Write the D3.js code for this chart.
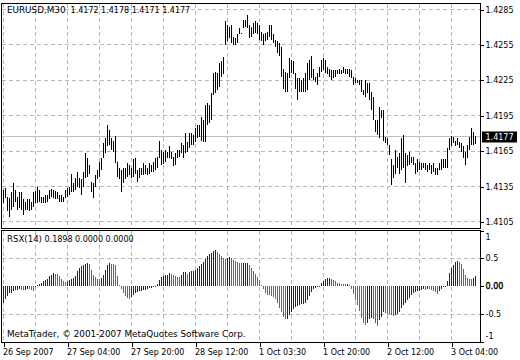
<!DOCTYPE html>
<html><head><meta charset="utf-8">
<script src="https://cdn.jsdelivr.net/npm/d3@7"></script>
<style>
body{margin:0;background:#fff}
svg{display:block}
text{font-family:"DejaVu Sans",Verdana,sans-serif;font-size:8px;fill:#000}
</style>
</head><body><svg id="c" width="520" height="360"></svg>
<script>
const symbol = "EURUSD,M30";
const lastOHLC = [1.4172, 1.4178, 1.4171, 1.4177];
const highs = [
1.4132,1.4134,1.4126,1.4125,1.4130,1.4138,1.4132,1.4126,1.4130,1.4130,
1.4124,1.4122,1.4124,1.4124,1.4122,1.4130,1.4131,1.4135,1.4132,1.4126,
1.4126,1.4128,1.4128,1.4132,1.4133,1.4132,1.4131,1.4130,1.4128,1.4128,
1.4126,1.4132,1.4134,1.4135,1.4146,1.4138,1.4142,1.4147,1.4142,1.4141,
1.4147,1.4163,1.4159,1.4153,1.4139,1.4138,1.4145,1.4149,1.4156,1.4159,
1.4172,1.4176,1.4187,1.4183,1.4176,1.4174,1.4178,1.4156,1.4151,1.4149,
1.4151,1.4151,1.4155,1.4153,1.4151,1.4158,1.4159,1.4149,1.4151,1.4151,
1.4155,1.4153,1.4151,1.4155,1.4153,1.4156,1.4159,1.4160,1.4174,1.4166,
1.4164,1.4166,1.4164,1.4169,1.4164,1.4160,1.4163,1.4166,1.4166,1.4172,
1.4170,1.4180,1.4173,1.4180,1.4180,1.4179,1.4185,1.4187,1.4187,1.4194,
1.4191,1.4204,1.4206,1.4204,1.4214,1.4231,1.4232,1.4231,1.4240,1.4241,
1.4245,1.4275,1.4272,1.4270,1.4272,1.4262,1.4261,1.4264,1.4269,1.4265,
1.4276,1.4276,1.4280,1.4272,1.4270,1.4274,1.4275,1.4274,1.4272,1.4266,
1.4264,1.4265,1.4266,1.4272,1.4272,1.4264,1.4259,1.4258,1.4257,1.4253,
1.4235,1.4232,1.4231,1.4244,1.4242,1.4241,1.4231,1.4227,1.4227,1.4225,
1.4227,1.4231,1.4240,1.4242,1.4246,1.4235,1.4228,1.4231,1.4236,1.4242,
1.4244,1.4242,1.4236,1.4235,1.4234,1.4234,1.4234,1.4234,1.4235,1.4234,
1.4236,1.4235,1.4235,1.4235,1.4234,1.4228,1.4227,1.4225,1.4225,1.4225,
1.4217,1.4225,1.4223,1.4223,1.4215,1.4211,1.4191,1.4191,1.4202,1.4200,
1.4200,1.4177,1.4176,1.4170,1.4158,1.4153,1.4166,1.4160,1.4163,1.4176,
1.4179,1.4163,1.4162,1.4164,1.4160,1.4160,1.4155,1.4158,1.4156,1.4155,
1.4155,1.4155,1.4153,1.4155,1.4153,1.4155,1.4151,1.4151,1.4155,1.4158,
1.4158,1.4158,1.4168,1.4176,1.4178,1.4177,1.4174,1.4176,1.4173,1.4172,
1.4169,1.4164,1.4170,1.4177,1.4185,1.4181,1.4178];
const lows = [
1.4121,1.4125,1.4114,1.4109,1.4115,1.4118,1.4122,1.4115,1.4117,1.4115,
1.4111,1.4115,1.4115,1.4114,1.4115,1.4118,1.4121,1.4121,1.4122,1.4121,
1.4121,1.4121,1.4122,1.4124,1.4126,1.4125,1.4124,1.4124,1.4122,1.4122,
1.4122,1.4125,1.4126,1.4128,1.4130,1.4130,1.4132,1.4135,1.4134,1.4128,
1.4135,1.4142,1.4143,1.4146,1.4130,1.4125,1.4135,1.4141,1.4143,1.4149,
1.4159,1.4163,1.4169,1.4170,1.4166,1.4164,1.4155,1.4143,1.4141,1.4130,
1.4138,1.4141,1.4143,1.4145,1.4142,1.4143,1.4146,1.4139,1.4142,1.4145,
1.4145,1.4146,1.4145,1.4146,1.4147,1.4147,1.4149,1.4151,1.4159,1.4153,
1.4154,1.4156,1.4159,1.4159,1.4158,1.4152,1.4153,1.4159,1.4160,1.4163,
1.4159,1.4163,1.4164,1.4168,1.4170,1.4170,1.4173,1.4176,1.4177,1.4174,
1.4173,1.4173,1.4187,1.4189,1.4191,1.4213,1.4214,1.4217,1.4219,1.4228,
1.4230,1.4255,1.4258,1.4261,1.4257,1.4255,1.4255,1.4257,1.4264,1.4264,
1.4269,1.4270,1.4269,1.4261,1.4262,1.4264,1.4265,1.4264,1.4259,1.4258,
1.4255,1.4258,1.4259,1.4262,1.4259,1.4257,1.4253,1.4248,1.4246,1.4228,
1.4218,1.4215,1.4215,1.4227,1.4231,1.4230,1.4218,1.4208,1.4215,1.4215,
1.4215,1.4215,1.4217,1.4225,1.4227,1.4225,1.4224,1.4221,1.4228,1.4232,
1.4234,1.4231,1.4230,1.4228,1.4225,1.4227,1.4228,1.4230,1.4230,1.4230,
1.4231,1.4230,1.4230,1.4228,1.4227,1.4221,1.4223,1.4223,1.4221,1.4215,
1.4213,1.4211,1.4214,1.4208,1.4200,1.4191,1.4181,1.4179,1.4176,1.4193,
1.4174,1.4172,1.4170,1.4162,1.4136,1.4142,1.4146,1.4151,1.4146,1.4149,
1.4151,1.4138,1.4152,1.4153,1.4155,1.4153,1.4146,1.4147,1.4149,1.4149,
1.4151,1.4149,1.4147,1.4149,1.4146,1.4147,1.4145,1.4145,1.4149,1.4149,
1.4151,1.4151,1.4151,1.4166,1.4169,1.4172,1.4169,1.4170,1.4168,1.4164,
1.4159,1.4153,1.4159,1.4166,1.4170,1.4170,1.4171];
const rsx = [
-0.30,-0.22,-0.18,-0.13,-0.12,-0.09,-0.07,-0.06,-0.045,-0.06,
-0.065,-0.06,-0.05,-0.055,-0.07,-0.09,0.01,0.03,0.045,0.06,
0.09,0.105,0.135,0.18,0.21,0.24,0.22,0.215,0.18,0.135,
0.09,0.08,0.095,0.11,0.13,0.14,0.19,0.27,0.33,0.37,
0.375,0.40,0.415,0.40,0.30,0.21,0.165,0.135,0.13,0.15,
0.205,0.285,0.375,0.415,0.405,0.40,0.375,0.18,0.03,-0.055,
-0.13,-0.175,-0.205,-0.22,-0.195,-0.15,-0.12,-0.105,-0.09,-0.085,
-0.075,-0.065,-0.05,-0.04,-0.03,-0.015,0.003,0.035,0.12,0.165,
0.18,0.195,0.21,0.23,0.225,0.195,0.175,0.165,0.16,0.205,
0.25,0.255,0.225,0.26,0.27,0.28,0.30,0.325,0.36,0.40,
0.435,0.49,0.54,0.575,0.60,0.625,0.65,0.615,0.575,0.535,
0.505,0.49,0.51,0.525,0.50,0.47,0.445,0.43,0.415,0.41,
0.415,0.417,0.42,0.375,0.325,0.265,0.225,0.165,0.105,0.015,
-0.055,-0.115,-0.15,-0.16,-0.175,-0.195,-0.225,-0.295,-0.39,-0.46,
-0.55,-0.595,-0.59,-0.52,-0.46,-0.40,-0.37,-0.355,-0.34,-0.325,
-0.31,-0.295,-0.255,-0.175,-0.105,-0.055,-0.025,-0.015,-0.008,0.065,
0.095,0.125,0.14,0.147,0.135,0.117,0.093,0.063,0.057,0.045,
0.044,0.04,0.045,0.015,-0.045,-0.135,-0.255,-0.345,-0.435,-0.565,
-0.66,-0.70,-0.655,-0.585,-0.57,-0.595,-0.66,-0.705,-0.61,-0.55,
-0.46,-0.48,-0.49,-0.505,-0.52,-0.54,-0.51,-0.49,-0.46,-0.39,
-0.345,-0.295,-0.255,-0.21,-0.165,-0.13,-0.105,-0.092,-0.08,-0.07,
-0.055,-0.07,-0.05,-0.055,-0.062,-0.085,-0.105,-0.135,-0.09,-0.055,
-0.02,-0.003,0.093,0.235,0.33,0.385,0.43,0.45,0.435,0.40,
0.315,0.21,0.15,0.135,0.13,0.145,0.1898];
const rsxHeader = [0.1898, 0.0000, 0.0000];
const priceTicks = [1.4105, 1.4135, 1.4165, 1.4195, 1.4225, 1.4255, 1.4285];
const rsxTicks = [1, 0.5, 0, -0.5, -1];
const rsxTickLabels = ["1", "0.5", "0.00", "-0.5", "-1"];
const timeTickIndex = [0, 32, 64, 96, 128, 160, 192, 224];
const timeTickLabels = ["26 Sep 2007", "27 Sep 04:00", "27 Sep 20:00", "28 Sep 12:00", "1 Oct 03:30", "1 Oct 20:00", "2 Oct 12:00", "3 Oct 04:00"];
const gridIndex = [0,16,32,48,64,80,96,112,128,144,160,176,192,208,224];
const copyright = "MetaTrader, \u00a9 2001-2007 MetaQuotes Software Corp.";

const svg = d3.select("#c");
const L = 1.5, R = 480.5;
const mainTop = 3.5, mainBot = 228.5, indTop = 230.5, indBot = 342.5;
const gridColor = "#b8b8b8";

const x = d3.scaleLinear().domain([0, highs.length - 1]).range([3.5, 3.5 + 2 * (highs.length - 1)]);
const y = d3.scaleLinear().domain([1.4105, 1.4285]).range([221.9, 9.6]);
const yr = d3.scaleLinear().domain([-1, 1]).range([342, 230.5]);

svg.append("rect").attr("width", 520).attr("height", 360).attr("fill", "#fff");

svg.append("clipPath").attr("id", "cm").append("rect").attr("x", L).attr("y", mainTop).attr("width", R - L).attr("height", mainBot - mainTop);
svg.append("clipPath").attr("id", "ci").append("rect").attr("x", L).attr("y", indTop).attr("width", R - L).attr("height", indBot - indTop);

const gm = svg.append("g").attr("clip-path", "url(#cm)").attr("shape-rendering", "crispEdges");
gm.selectAll(".hg").data(priceTicks).join("line")
  .attr("x1", L).attr("x2", R).attr("y1", d => y(d)).attr("y2", d => y(d))
  .attr("stroke", gridColor).attr("stroke-dasharray", "4,3");
gm.selectAll(".vg").data(gridIndex).join("line")
  .attr("x1", d => x(d)).attr("x2", d => x(d)).attr("y1", mainTop).attr("y2", mainBot)
  .attr("stroke", gridColor).attr("stroke-dasharray", "4,3");
gm.append("line").attr("x1", L).attr("x2", R)
  .attr("y1", y(lastOHLC[3])).attr("y2", y(lastOHLC[3])).attr("stroke", "#c0c0c0");
gm.selectAll(".bar").data(highs).join("rect")
  .attr("x", (d, i) => x(i) - 0.5).attr("width", 1)
  .attr("y", d => y(d)).attr("height", (d, i) => Math.max(1, y(lows[i]) - y(d)))
  .attr("fill", "#000");

const gi = svg.append("g").attr("clip-path", "url(#ci)").attr("shape-rendering", "crispEdges");
gi.selectAll(".hg").data([0.5, -0.5]).join("line")
  .attr("x1", L).attr("x2", R).attr("y1", d => yr(d)).attr("y2", d => yr(d))
  .attr("stroke", gridColor).attr("stroke-dasharray", "4,3");
gi.selectAll(".vg").data(gridIndex).join("line")
  .attr("x1", d => x(d)).attr("x2", d => x(d)).attr("y1", indTop).attr("y2", indBot)
  .attr("stroke", gridColor).attr("stroke-dasharray", "4,3");
gi.selectAll(".rb").data(rsx).join("rect")
  .attr("x", (d, i) => x(i) - 0.5).attr("width", 1)
  .attr("y", d => Math.min(yr(d), yr(0))).attr("height", d => Math.max(1, Math.abs(yr(d) - yr(0))))
  .attr("fill", (d, i) => (i === 0 || d >= rsx[i - 1]) ? "#1010d0" : "#e010e0");

svg.append("rect").attr("x", L).attr("y", mainTop).attr("width", R - L).attr("height", mainBot - mainTop)
  .attr("fill", "none").attr("stroke", "#000").attr("shape-rendering", "crispEdges");
svg.append("rect").attr("x", L).attr("y", indTop).attr("width", R - L).attr("height", indBot - indTop)
  .attr("fill", "none").attr("stroke", "#000").attr("shape-rendering", "crispEdges");

const pa = svg.append("g").attr("transform", `translate(${R},0)`)
  .call(d3.axisRight(y).tickValues(priceTicks).tickSize(3).tickPadding(2).tickFormat(d3.format(".4f")));
pa.select(".domain").remove();
pa.selectAll("line").attr("stroke", "#000").attr("shape-rendering", "crispEdges");
pa.selectAll("text").attr("font-family", null).attr("font-size", null).attr("fill", "#000");

const cy = y(lastOHLC[3]);
svg.append("rect").attr("x", 482).attr("y", cy - 5.5).attr("width", 35).attr("height", 11).attr("fill", "#000");
svg.append("text").attr("x", 485.5).attr("y", cy + 3).style("fill", "#fff")
  .text(d3.format(".4f")(lastOHLC[3]));

const ra = svg.append("g").attr("transform", `translate(${R},0)`)
  .call(d3.axisRight(yr).tickValues(rsxTicks).tickSize(3).tickPadding(2).tickFormat((d, i) => rsxTickLabels[i]));
ra.select(".domain").remove();
ra.selectAll("line").attr("stroke", "#000").attr("shape-rendering", "crispEdges");
ra.selectAll("text").attr("font-family", null).attr("font-size", null).attr("fill", "#000")
  .attr("dy", d => d === 1 ? "9px" : d === -1 ? "-4px" : "0.32em")
  .attr("stroke", d => d === 0 ? "#000" : null).attr("stroke-width", d => d === 0 ? 0.35 : null);

const ta = svg.append("g").attr("transform", `translate(0,${indBot})`)
  .call(d3.axisBottom(x).tickValues(timeTickIndex).tickSize(4).tickFormat(d => timeTickLabels[timeTickIndex.indexOf(d)]));
ta.select(".domain").remove();
ta.selectAll("line").attr("stroke", "#000").attr("shape-rendering", "crispEdges");
ta.selectAll("text").attr("font-family", null).attr("font-size", null).attr("fill", "#000")
  .attr("text-anchor", "start").attr("x", -1).attr("y", 12.5).attr("dy", null);

const t1 = svg.append("text").attr("x", 7).attr("y", 12.5).attr("xml:space", "preserve").style("white-space", "pre");
t1.append("tspan").style("font-size", "8.8px").text(symbol);
t1.append("tspan").text("  " + lastOHLC.map(d3.format(".4f")).join(" "));
const t2 = svg.append("text").attr("x", 7).attr("y", 242).attr("xml:space", "preserve").style("white-space", "pre");
t2.append("tspan").style("font-size", "8.6px").text("RSX(14)");
t2.append("tspan").text(" " + rsxHeader.map(d3.format(".4f")).join(" "));
svg.append("text").attr("x", 7).attr("y", 336.5).style("font-size", "8.8px").text(copyright);
</script>
</body></html>
